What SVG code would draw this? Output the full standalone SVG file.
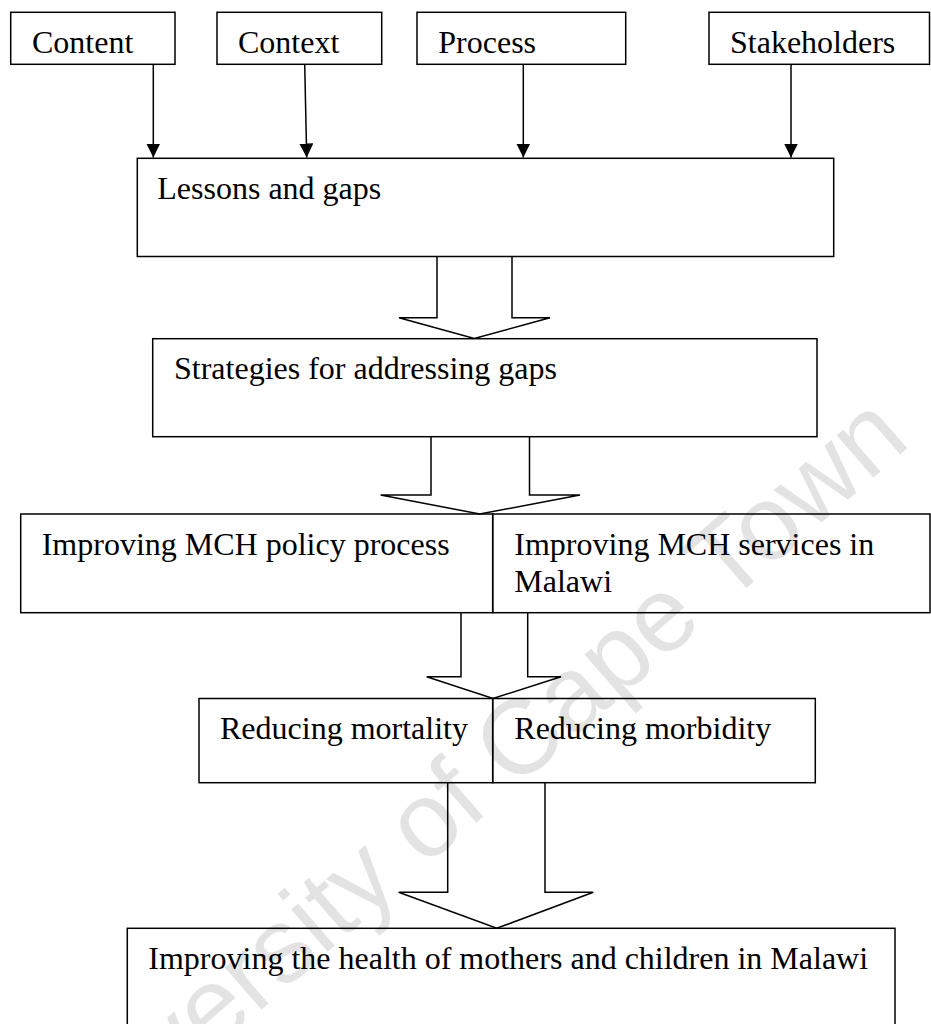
<svg xmlns="http://www.w3.org/2000/svg" width="931" height="1024" viewBox="0 0 931 1024">
  <style>
    .box { fill: none; stroke: #000; stroke-width: 1.5; }
    .lbl { font-family: "Liberation Serif", "Times New Roman", serif; font-size: 32px; fill: #000; }
    .wire { fill: none; stroke: #000; stroke-width: 1.5; }
    .fat { fill: none; stroke: #000; stroke-width: 1.5; stroke-linejoin: miter; }
    .wm { font-family: "Liberation Sans", Arial, sans-serif; font-size: 106px; fill: #000; fill-opacity: 0.11; }
  </style>
  <defs>
    <marker id="head" viewBox="0 0 14 14" refX="14" refY="7" markerWidth="14" markerHeight="14" markerUnits="userSpaceOnUse" orient="auto">
      <path d="M0,0 L14,7 L0,14 Z" fill="#000"/>
    </marker>
  </defs>
  <rect width="931" height="1024" fill="#fff"/>

  <!-- watermark -->
  <text class="wm" x="0" y="0" text-anchor="middle" transform="translate(482,818) rotate(-41)">University of Cape Town</text>

  <!-- top row -->
  <g id="content">
    <rect class="box" x="10.7" y="12.3" width="164.3" height="52"/>
    <text class="lbl" x="32" y="53.3">Content</text>
  </g>
  <g id="context">
    <rect class="box" x="217" y="12.3" width="164.7" height="52"/>
    <text class="lbl" x="238" y="53.3">Context</text>
  </g>
  <g id="process">
    <rect class="box" x="417" y="12.3" width="208.7" height="52"/>
    <text class="lbl" x="438.3" y="53.3">Process</text>
  </g>
  <g id="stakeholders">
    <rect class="box" x="709" y="12.3" width="220.5" height="52"/>
    <text class="lbl" x="730" y="53.3">Stakeholders</text>
  </g>

  <g id="lessons">
    <rect class="box" x="137.3" y="158.3" width="696.4" height="98.2"/>
    <text class="lbl" x="157.3" y="198.8">Lessons and gaps</text>
  </g>

  <g id="strategies">
    <rect class="box" x="152.7" y="338.7" width="664.3" height="98"/>
    <text class="lbl" x="174" y="379.2">Strategies for addressing gaps</text>
  </g>

  <g id="policy">
    <rect class="box" x="20.7" y="514" width="472" height="98.7"/>
    <text class="lbl" x="41.7" y="554.5">Improving MCH policy process</text>
  </g>
  <g id="services">
    <rect class="box" x="492.7" y="514" width="437.3" height="98.7"/>
    <text class="lbl" x="514.3" y="554.5">Improving MCH services in</text>
    <text class="lbl" x="514.3" y="591.5">Malawi</text>
  </g>

  <g id="mortality">
    <rect class="box" x="199" y="698.5" width="293.7" height="84.2"/>
    <text class="lbl" x="220" y="738.5">Reducing mortality</text>
  </g>
  <g id="morbidity">
    <rect class="box" x="492.7" y="698.5" width="322.6" height="84.2"/>
    <text class="lbl" x="514.3" y="738.5">Reducing morbidity</text>
  </g>

  <g id="health">
    <rect class="box" x="127.3" y="928.3" width="767.7" height="110"/>
    <text class="lbl" x="148.3" y="969.3">Improving the health of mothers and children in Malawi</text>
  </g>

  <!-- connectors -->
  <g id="connectors">
    <line class="wire" x1="153.3" y1="64.3" x2="153.3" y2="157.5" marker-end="url(#head)"/>
    <line class="wire" x1="304.7" y1="64.3" x2="306.7" y2="157.5" marker-end="url(#head)"/>
    <line class="wire" x1="523.3" y1="64.3" x2="523.3" y2="157.5" marker-end="url(#head)"/>
    <line class="wire" x1="791" y1="64.3" x2="791" y2="157.5" marker-end="url(#head)"/>

    <path class="fat" d="M437,256.5 V317.7 H399 L474.3,338.5 L550,317.7 H512 V256.5"/>
    <path class="fat" d="M431,436.7 V495 H380.6 L479.8,514 L580,495 H529.5 V436.7"/>
    <path class="fat" d="M461,612.7 V676.7 H426.7 L493,698.5 L561,676.7 H527.7 V612.7"/>
    <path class="fat" d="M447.7,782.7 V892.3 H398.7 L496.7,928.3 L593.3,892.3 H545 V782.7"/>
  </g>
</svg>
